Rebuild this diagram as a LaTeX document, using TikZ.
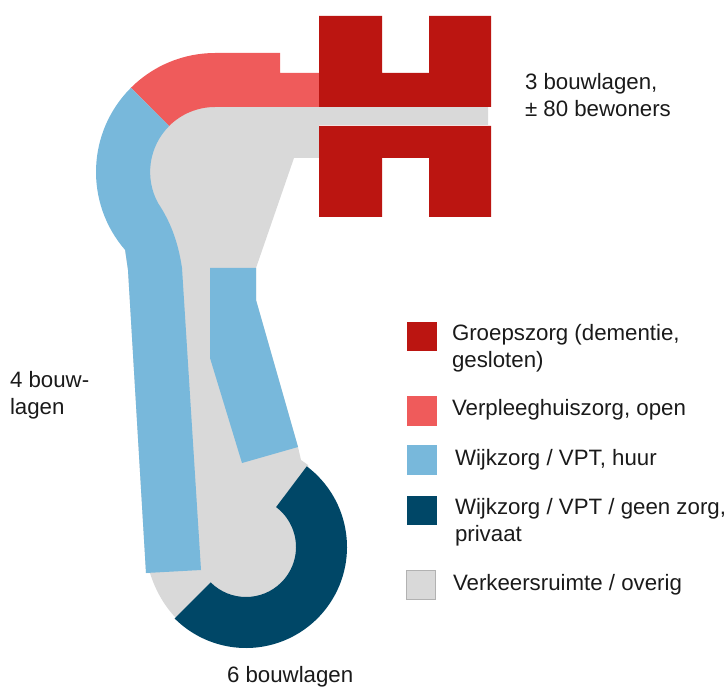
\documentclass[tikz,border=0pt]{standalone}
\usepackage{fontspec}
\setmainfont{Liberation Sans}
\usetikzlibrary{calc}
\definecolor{groep}{HTML}{BB1511}
\definecolor{verpleeg}{HTML}{EF5B5B}
\definecolor{huur}{HTML}{78B8DB}
\definecolor{privaat}{HTML}{004767}
\definecolor{verkeer}{HTML}{D9D9D9}
\definecolor{tekst}{HTML}{1A1A1A}

\begin{document}
\begin{tikzpicture}[
  x=0.75pt, y=0.75pt,
  legbox/.style={rectangle, minimum size=22.2pt, inner sep=0pt, outer sep=0pt},
  label/.style={inner sep=0pt, outer sep=0pt, align=left, text=tekst,
                font=\fontsize{16.7}{20.6}\selectfont},
  oneline/.style={label, anchor=base west},
  twoline/.style={label, anchor=west}
]
\useasboundingbox (0,0) rectangle (727,686);

% Arc centres
\coordinate (CT) at (215,514);
\coordinate (CB) at (246,139);

% Circulation space
\fill[verkeer] (215,579) -- (488,579) -- (488,561) -- (319,561) -- (319,528) -- (294,528)
  -- (256,418) -- (256,386) -- (298,239) -- (301,226) -- (308,221)
  -- (320,140) -- (300,85) -- (246,65) -- (175,69)
  .. controls (163,82) and (155,97) .. (150,113)
  -- (146,113) -- (128,416) -- (125,436) -- (120,514) -- (150,579) -- (215,600) -- cycle;

% Nursing wing, open
\fill[verpleeg] ($(CT)+(135:119)$) arc[start angle=135, end angle=90, radius=119]
  -- (280,633) -- (280,613) -- (319,613) -- (319,579) -- (215,579)
  arc[start angle=90, end angle=135, radius=65] -- cycle;

% Rental wings
\fill[huur] ($(CT)+(135:119)$) arc[start angle=135, end angle=221, radius=119]
  -- (128,416) -- (146,113) -- (201,116) -- (182,418)
  .. controls (178,445) and (170,465) .. (158,483)
  arc[start angle=208.5, end angle=135, radius=65] -- cycle;
\fill[huur] (210,418) -- (256,418) -- (256,386) -- (298,239) -- (242,223) -- (210,328) -- cycle;

% Private wing
\fill[privaat] ($(CB)+(53:101)$) arc[start angle=53, end angle=-135, radius=101]
  -- ($(CB)+(-135:50)$) arc[start angle=-135, end angle=53, radius=50] -- cycle;

% Group care
\fill[groep] (319,670) -- (382,670) -- (382,613) -- (429,613) -- (429,670) -- (491,670)
  -- (491,579) -- (319,579) -- cycle;
\fill[groep] (319,560) -- (491,560) -- (491,469) -- (429,469) -- (429,528) -- (382,528)
  -- (382,469) -- (319,469) -- cycle;

% Floor counts
\node[twoline] (top)  at (525,591)   {3 bouwlagen,\\± 80 bewoners};
\node[twoline] (left) at (10,290.5)  {4 bouw-\\lagen};
\node[oneline] (down) at (227,4)     {6 bouwlagen};

% Legend
\node[legbox, fill=groep]    (L1) at (422,349.5) {};
\node[legbox, fill=verpleeg] (L2) at (422,275)   {};
\node[legbox, fill=huur]     (L3) at (422,226)   {};
\node[legbox, fill=privaat]  (L4) at (422,175.5) {};
\node[legbox, fill=verkeer, draw=black!30, line width=0.5pt, minimum size=21.5pt] (L5) at (421,101) {};

\node[twoline] (T1) at (452,337.5) {Groepszorg (dementie,\\gesloten)};
\node[oneline] (T2) at (452,271)   {Verpleeghuiszorg, open};
\node[oneline] (T3) at (455,221)   {Wijkzorg / VPT, huur};
\node[twoline] (T4) at (455,163.5) {Wijkzorg / VPT / geen zorg,\\privaat};
\node[oneline] (T5) at (453,96)    {Verkeersruimte / overig};
\end{tikzpicture}
\end{document}
